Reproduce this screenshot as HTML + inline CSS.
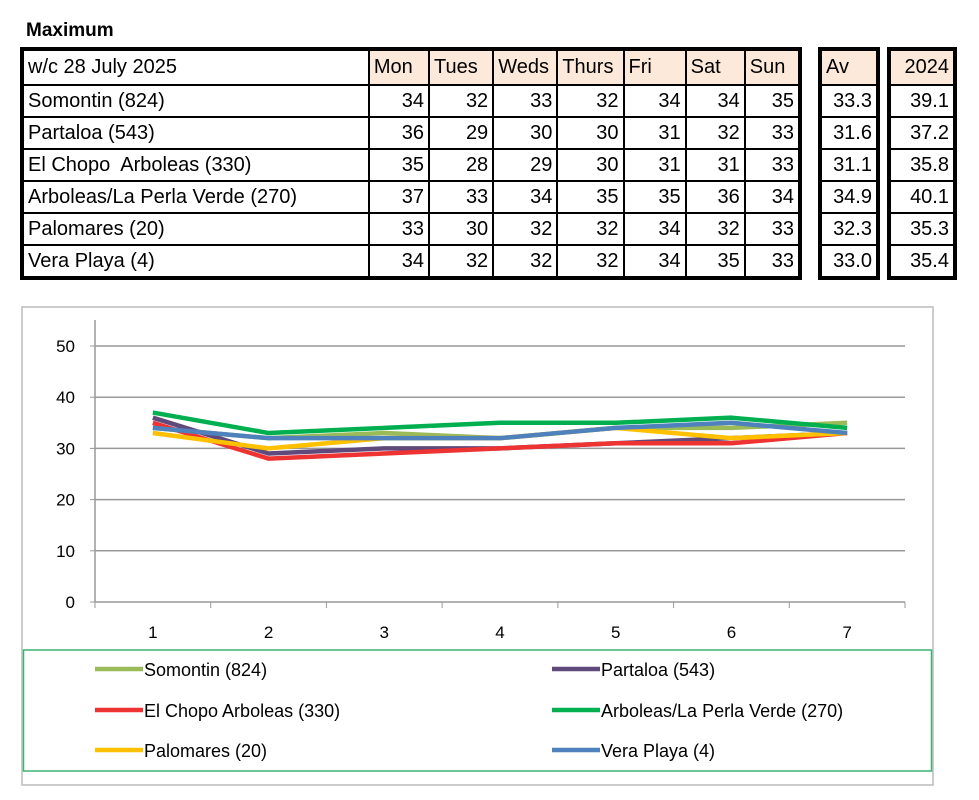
<!DOCTYPE html>
<html><head><meta charset="utf-8">
<style>
body{margin:0;width:979px;height:800px;background:#fff;font-family:"Liberation Sans",sans-serif;overflow:hidden;position:relative}
.t{position:absolute;border-collapse:collapse;font-size:20px}
.t td{border:2px solid #000;padding:0 4px;height:30px;line-height:30px;white-space:nowrap}
.t tr.h td{height:33px;line-height:33px}
.t td.n{text-align:right}
.h td{background:#fde9d9}
.h td.w{background:#fff}
</style></head><body>
<div style="position:absolute;left:26px;top:20px;font-weight:bold;font-size:19px">Maximum</div>
<table class="t" style="left:20px;top:47px;width:782px;border:4px solid #000">
<colgroup><col style="width:346px"><col style="width:60px"><col style="width:64px"><col style="width:64px"><col style="width:66px"><col style="width:62px"><col style="width:59px"><col style="width:55px"></colgroup>
<tr class="h"><td class="w">w/c 28 July 2025</td><td>Mon</td><td>Tues</td><td>Weds</td><td>Thurs</td><td>Fri</td><td>Sat</td><td>Sun</td></tr>
<tr><td>Somontin (824)</td><td class="n">34</td><td class="n">32</td><td class="n">33</td><td class="n">32</td><td class="n">34</td><td class="n">34</td><td class="n">35</td></tr>
<tr><td>Partaloa (543)</td><td class="n">36</td><td class="n">29</td><td class="n">30</td><td class="n">30</td><td class="n">31</td><td class="n">32</td><td class="n">33</td></tr>
<tr><td>El Chopo&nbsp; Arboleas (330)</td><td class="n">35</td><td class="n">28</td><td class="n">29</td><td class="n">30</td><td class="n">31</td><td class="n">31</td><td class="n">33</td></tr>
<tr><td>Arboleas/La Perla Verde (270)</td><td class="n">37</td><td class="n">33</td><td class="n">34</td><td class="n">35</td><td class="n">35</td><td class="n">36</td><td class="n">34</td></tr>
<tr><td>Palomares (20)</td><td class="n">33</td><td class="n">30</td><td class="n">32</td><td class="n">32</td><td class="n">34</td><td class="n">32</td><td class="n">33</td></tr>
<tr><td>Vera Playa (4)</td><td class="n">34</td><td class="n">32</td><td class="n">32</td><td class="n">32</td><td class="n">34</td><td class="n">35</td><td class="n">33</td></tr>
</table>
<table class="t" style="left:818px;top:47px;width:62px;border:4px solid #000">
<tr class="h"><td>Av</td></tr><tr><td class="n">33.3</td></tr><tr><td class="n">31.6</td></tr><tr><td class="n">31.1</td></tr><tr><td class="n">34.9</td></tr><tr><td class="n">32.3</td></tr><tr><td class="n">33.0</td></tr>
</table>
<table class="t" style="left:887px;top:47px;width:70px;border:4px solid #000">
<tr class="h"><td class="n">2024</td></tr><tr><td class="n">39.1</td></tr><tr><td class="n">37.2</td></tr><tr><td class="n">35.8</td></tr><tr><td class="n">40.1</td></tr><tr><td class="n">35.3</td></tr><tr><td class="n">35.4</td></tr>
</table>
<svg id="chart" width="979" height="800" style="position:absolute;left:0;top:0">
<rect x="22" y="307" width="911" height="478" fill="none" stroke="#bbb" stroke-width="1.5"/>
<rect x="23.5" y="650" width="908" height="121" fill="none" stroke="#3cb371" stroke-width="1.5"/>
</svg>
<script>
const categories=[1,2,3,4,5,6,7];
const yTicks=[0,10,20,30,40,50];
const seriesNames=["Somontin (824)","Partaloa (543)","El Chopo  Arboleas (330)","Arboleas/La Perla Verde (270)","Palomares (20)","Vera Playa (4)"];
const somontin=[34,32,33,32,34,34,35];
const partaloa=[36,29,30,30,31,32,33];
const elChopo=[35,28,29,30,31,31,33];
const laPerla=[37,33,34,35,35,36,34];
const palomares=[33,30,32,32,34,32,33];
const veraPlaya=[34,32,32,32,34,35,33];
const colors=["#9bbb59","#604a7b","#ee3333","#00b050","#ffc000","#4f81bd"];
const series=[somontin,partaloa,elChopo,laPerla,palomares,veraPlaya];
const svg=document.getElementById('chart');const NS="http://www.w3.org/2000/svg";
const x0=95,x1=905,yB=602,yT=346,yMax=50;
const cw=(x1-x0)/categories.length;
const xs=i=>x0+cw*(i+0.5);
const ys=v=>yB-(v/yMax)*(yB-yT);
function mk(t,a){const e=document.createElementNS(NS,t);for(const k in a)e.setAttribute(k,a[k]);svg.appendChild(e);return e;}
yTicks.forEach(v=>{
 if(v>0){const g=mk('line',{x1:x0,x2:x1,y1:ys(v),y2:ys(v),stroke:'#999','stroke-width':1.5});
 
 }
 const tk=mk('line',{x1:x0-5,x2:x0,y1:ys(v),y2:ys(v),stroke:'#999'});
 
 
 const t=mk('text',{x:x0-20,y:ys(v)+6,'text-anchor':'end','font-size':17,'font-family':'Liberation Sans'});t.textContent=v;
 
 
});
const ya=mk('line',{x1:x0,x2:x0,y1:yB,y2:yT-26,stroke:'#999','stroke-width':1.5});


const xa=mk('line',{x1:x0,x2:x1,y1:yB,y2:yB,stroke:'#999','stroke-width':1.5});


for(let i=0;i<=categories.length;i++){const tk=mk('line',{x1:x0+cw*i,x2:x0+cw*i,y1:yB,y2:yB+6,stroke:'#999'});
 
 }
categories.forEach((c,i)=>{const t=mk('text',{x:xs(i),y:yB+36,'text-anchor':'middle','font-size':17,'font-family':'Liberation Sans'});t.textContent=c;
 
 });
series.forEach((s,k)=>{const p=mk('polyline',{points:s.map((v,i)=>xs(i)+','+ys(v)).join(' '),fill:'none',stroke:colors[k],'stroke-width':4.5,'stroke-linejoin':'round'});
 
 });
const lx=[95,552],ly=[669,710,750];
seriesNames.forEach((n,k)=>{const cx=lx[k%2],cy=ly[Math.floor(k/2)];
 const l=mk('line',{x1:cx,x2:cx+48,y1:cy,y2:cy,stroke:colors[k],'stroke-width':4.5});
 
 
 const t=mk('text',{x:cx+49,y:cy+7,'font-size':18,'font-family':'Liberation Sans','xml:space':'preserve'});t.textContent=n;
 
 });
</script>
</body></html>
